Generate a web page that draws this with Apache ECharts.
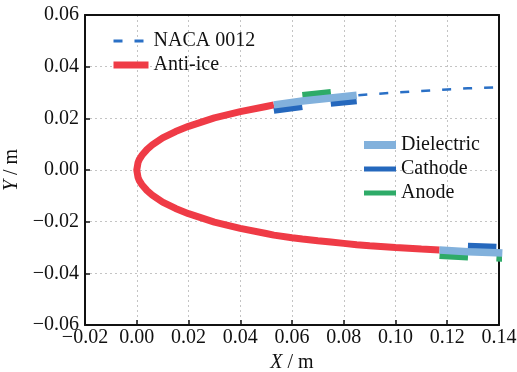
<!DOCTYPE html>
<html><head><meta charset="utf-8">
<script src="https://cdn.jsdelivr.net/npm/echarts@6/dist/echarts.min.js"></script>
<style>html,body{margin:0;padding:0;background:#fff}#c{width:517px;height:372px}</style>
</head><body><div id="c"></div>
<script>
// Airfoil surface points (NACA 0012 leading-edge region)
const upperX = [0, 0.0005, 0.001, 0.002, 0.004, 0.006, 0.01, 0.015, 0.02, 0.03, 0.04, 0.05, 0.053, 0.06, 0.064, 0.07, 0.075, 0.08, 0.085, 0.09, 0.10, 0.11, 0.117, 0.12, 0.128, 0.13, 0.139, 0.14];
const upperY = [0, 0.0029, 0.0041, 0.0057, 0.0080, 0.0097, 0.0124, 0.0149, 0.0169, 0.0202, 0.0226, 0.0246, 0.0252, 0.0262, 0.0267, 0.0274, 0.0279, 0.0284, 0.0289, 0.0293, 0.0300, 0.0306, 0.0310, 0.0312, 0.0316, 0.0317, 0.0320, 0.0321];
const lowerY = [0, -0.0029, -0.0041, -0.0057, -0.0080, -0.0097, -0.0124, -0.0149, -0.0169, -0.0202, -0.0226, -0.0246, -0.0252, -0.0262, -0.0267, -0.0274, -0.0279, -0.0284, -0.0289, -0.0293, -0.0300, -0.0306, -0.0310, -0.0312, -0.0316, -0.0317, -0.0320, -0.0321];
const antiIceUpperEnd = 0.053;
const antiIceLowerEnd = 0.117;

// Actuator strips
const dielectricUpper = [[0.053, 0.0252], [0.064, 0.0267], [0.075, 0.0279], [0.085, 0.0289]];
const dielectricLower = [[0.117, -0.0310], [0.128, -0.0316], [0.139, -0.0320], [0.1413, -0.0321]];
const cathodeUpper1 = [[0.053, 0.0229], [0.064, 0.0244]];
const cathodeUpper2 = [[0.075, 0.0256], [0.085, 0.0266]];
const cathodeLower1 = [[0.128, -0.0293], [0.139, -0.0297]];
const anodeUpper1 = [[0.064, 0.0290], [0.075, 0.0302]];
const anodeLower1 = [[0.117, -0.0333], [0.128, -0.0339]];
const anodeLower2 = [[0.139, -0.0343], [0.1413, -0.0344]];

const xMin = -0.02, xMax = 0.14, xStep = 0.02;
const yMin = -0.06, yMax = 0.06, yStep = 0.02;

const FONT = "'Liberation Serif','Times New Roman',serif";
const C = { naca: '#2a70c6', red: '#ef3b46', diel: '#82b1dc', cath: '#2568bd', anode: '#2eab68' };

const nacaData = [];
for (let i = upperX.length - 1; i >= 0; i--) nacaData.push([upperX[i], lowerY[i]]);
for (let i = 1; i < upperX.length; i++) nacaData.push([upperX[i], upperY[i]]);
const antiIceData = [];
for (let i = upperX.length - 1; i >= 0; i--) if (upperX[i] <= antiIceLowerEnd) antiIceData.push([upperX[i], lowerY[i]]);
for (let i = 1; i < upperX.length; i++) if (upperX[i] <= antiIceUpperEnd) antiIceData.push([upperX[i], upperY[i]]);

const fmt = v => (v < -1e-9 ? '\u2212' : '') + Math.abs(v).toFixed(2);

function seg(name, data, color, width, z) {
  return { name, type: 'line', data, symbol: 'none', showSymbol: false, clip: false, z,
    lineStyle: { color, width, cap: 'butt' }, itemStyle: { color }, emphasis: { disabled: true }, silent: true };
}
const hideSym = { color: 'rgba(0,0,0,0)', borderColor: 'rgba(0,0,0,0)', borderWidth: 0 };
const nameStyle = { fontFamily: FONT, fontSize: 20, color: '#111', rich: { i: { fontFamily: FONT, fontSize: 20, fontStyle: 'italic', color: '#111' } } };
const frameAxis = { show: true, axisLine: { show: true, onZero: false, lineStyle: { color: '#111', width: 2 } }, axisTick: { show: false }, axisLabel: { show: false }, splitLine: { show: false } };

const chart = echarts.init(document.getElementById('c'));
chart.setOption({
  animation: false,
  grid: { left: 85, right: 18, top: 15, bottom: 47, containLabel: false, outerBoundsMode: 'none' },
  xAxis: [{
    type: 'value', min: xMin, max: xMax, interval: xStep, position: 'bottom',
    name: '{i|X} / m', nameLocation: 'middle', nameGap: 24, nameTextStyle: nameStyle,
    axisLine: { show: true, onZero: false, lineStyle: { color: '#111', width: 2 } },
    axisTick: { show: true, inside: true, length: 5, lineStyle: { color: '#111', width: 1.5 } },
    axisLabel: { formatter: fmt, fontFamily: FONT, fontSize: 20, color: '#111', margin: 3 },
    splitLine: { show: true, lineStyle: { color: '#c4c4c4', width: 1, type: [2, 3] } }
  }, Object.assign({ type: 'value', min: xMin, max: xMax, position: 'top' }, frameAxis)],
  yAxis: [{
    type: 'value', min: yMin, max: yMax, interval: yStep, position: 'left',
    name: '{i|Y} / m', nameLocation: 'middle', nameGap: 58, nameTextStyle: nameStyle,
    axisLine: { show: true, onZero: false, lineStyle: { color: '#111', width: 2 } },
    axisTick: { show: true, inside: true, length: 5, lineStyle: { color: '#111', width: 1.5 } },
    axisLabel: { formatter: fmt, fontFamily: FONT, fontSize: 20, color: '#111', margin: 6 },
    splitLine: { show: true, lineStyle: { color: '#c4c4c4', width: 1, type: [2, 3] } }
  }, Object.assign({ type: 'value', min: yMin, max: yMax, position: 'right' }, frameAxis)],
  legend: [
    { left: 110, top: 31, orient: 'vertical', padding: 0, itemGap: 4, itemWidth: 35, itemHeight: 10, selectedMode: false,
      textStyle: { fontFamily: FONT, fontSize: 20, color: '#111', lineHeight: 20 },
      data: [{ name: 'NACA 0012', lineStyle: { width: 3 }, itemStyle: hideSym }, { name: 'Anti-ice', lineStyle: { width: 7 }, itemStyle: hideSym }] },
    { left: 360, top: 135, orient: 'vertical', padding: 0, itemGap: 4, itemWidth: 32, itemHeight: 10, selectedMode: false,
      textStyle: { fontFamily: FONT, fontSize: 20, color: '#111', lineHeight: 20 },
      data: [{ name: 'Dielectric', lineStyle: { width: 8 }, itemStyle: hideSym }, { name: 'Cathode', lineStyle: { width: 5 }, itemStyle: hideSym }, { name: 'Anode', lineStyle: { width: 5 }, itemStyle: hideSym }] }
  ],
  series: [
    { name: 'NACA 0012', type: 'line', data: nacaData, symbol: 'none', showSymbol: false, z: 2, silent: true,
      lineStyle: { color: C.naca, width: 2.5, type: [9, 12] }, itemStyle: { color: C.naca } },
    seg('Anti-ice', antiIceData, C.red, 7, 3),
    seg('Cathode', cathodeUpper1, C.cath, 6, 4),
    seg('Cathode', cathodeUpper2, C.cath, 6, 4),
    seg('Cathode', cathodeLower1, C.cath, 6, 4),
    seg('Anode', anodeUpper1, C.anode, 6, 4),
    seg('Anode', anodeLower1, C.anode, 6, 4),
    seg('Anode', anodeLower2, C.anode, 6, 4),
    seg('Dielectric', dielectricUpper, C.diel, 7.5, 5),
    seg('Dielectric', dielectricLower, C.diel, 7.5, 5)
  ]
});
</script></body></html>
